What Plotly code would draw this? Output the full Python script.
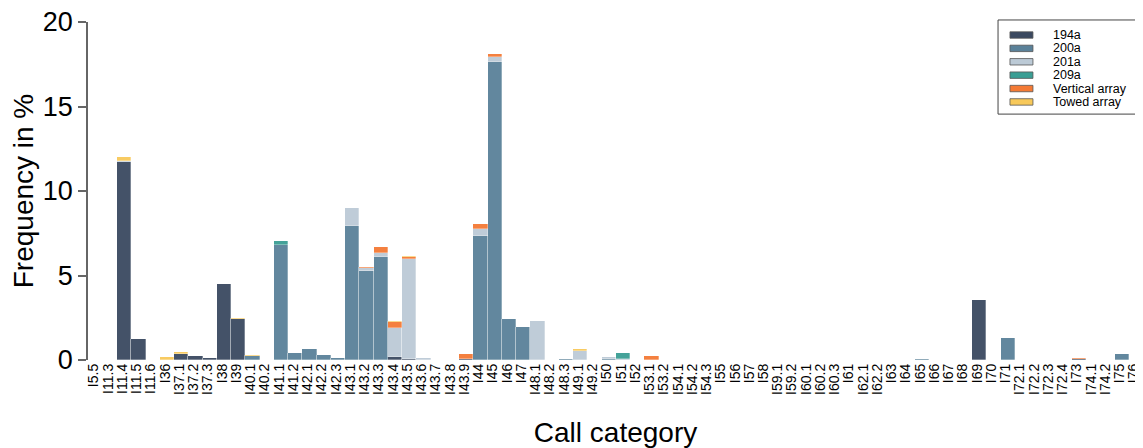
import plotly.graph_objects as go

categories = ["I5.5", "I11.3", "I11.4", "I11.5", "I11.6", "I36", "I37.1", "I37.2", "I37.3", "I38",
              "I39", "I40.1", "I40.2", "I41.1", "I41.2", "I42.1", "I42.2", "I42.3", "I43.1", "I43.2",
              "I43.3", "I43.4", "I43.5", "I43.6", "I43.7", "I43.8", "I43.9", "I44", "I45", "I46",
              "I47", "I48.1", "I48.2", "I48.3", "I49.1", "I49.2", "I50", "I51", "I52", "I53.1",
              "I53.2", "I54.1", "I54.2", "I54.3", "I55", "I56", "I57", "I58", "I59.1", "I59.2",
              "I60.1", "I60.2", "I60.3", "I61", "I62.1", "I62.2", "I63", "I64", "I65", "I66",
              "I67", "I68", "I69", "I70", "I71", "I72.1", "I72.2", "I72.3", "I72.4", "I73",
              "I74.1", "I74.2", "I75", "I76"]

v_194a = [0, 0, 11.7, 1.25, 0, 0, 0.35, 0.22, 0.12, 4.5,
          2.45, 0, 0, 0, 0, 0, 0, 0, 0, 0,
          0, 0.18, 0.07, 0, 0, 0, 0.05, 0, 0, 0,
          0, 0, 0, 0, 0, 0, 0, 0, 0, 0,
          0, 0, 0, 0, 0, 0, 0, 0, 0, 0,
          0, 0, 0, 0, 0, 0, 0, 0, 0, 0,
          0, 0, 3.55, 0, 0, 0, 0, 0, 0, 0.06,
          0, 0, 0, 0]

v_200a = [0, 0, 0, 0, 0, 0, 0, 0, 0, 0,
          0, 0.25, 0, 6.8, 0.43, 0.63, 0.28, 0.1, 7.95, 5.28,
          6.07, 0, 0, 0, 0, 0, 0, 7.35, 17.65, 2.4,
          1.93, 0, 0, 0.05, 0, 0, 0.05, 0, 0, 0,
          0, 0, 0, 0, 0, 0, 0, 0, 0, 0,
          0, 0, 0, 0, 0, 0, 0, 0, 0.06, 0,
          0, 0, 0, 0, 1.28, 0, 0, 0, 0, 0,
          0, 0, 0.35, 0]

v_201a = [0, 0, 0.1, 0, 0, 0, 0, 0, 0, 0,
          0, 0, 0, 0, 0, 0, 0, 0, 1.05, 0.15,
          0.28, 1.7, 5.9, 0.12, 0, 0, 0, 0.4, 0.25, 0,
          0, 2.3, 0, 0, 0.56, 0, 0.15, 0.05, 0, 0,
          0, 0, 0, 0, 0, 0, 0, 0, 0, 0,
          0, 0, 0, 0, 0, 0, 0, 0, 0, 0,
          0, 0, 0, 0, 0, 0, 0, 0, 0, 0,
          0, 0, 0, 0]

v_209a = [0, 0, 0, 0, 0, 0, 0, 0, 0, 0,
          0, 0, 0, 0.25, 0, 0, 0, 0, 0, 0,
          0, 0, 0, 0, 0, 0, 0, 0, 0, 0,
          0, 0, 0, 0, 0, 0, 0, 0.35, 0, 0,
          0, 0, 0, 0, 0, 0, 0, 0, 0, 0,
          0, 0, 0, 0, 0, 0, 0, 0, 0, 0,
          0, 0, 0, 0, 0, 0, 0, 0, 0, 0,
          0, 0, 0, 0]

v_vertical = [0, 0, 0, 0, 0, 0, 0, 0, 0, 0,
              0, 0, 0, 0, 0, 0, 0, 0, 0, 0.1,
              0.35, 0.35, 0.1, 0, 0, 0, 0.3, 0.28, 0.2, 0,
              0, 0, 0, 0, 0, 0, 0, 0, 0, 0.22,
              0, 0, 0, 0, 0, 0, 0, 0, 0, 0,
              0, 0, 0, 0, 0, 0, 0, 0, 0, 0,
              0, 0, 0, 0, 0, 0, 0, 0, 0, 0.08,
              0, 0, 0, 0]

v_towed = [0, 0, 0.2, 0, 0, 0.15, 0.12, 0, 0, 0,
           0.05, 0.07, 0, 0, 0, 0, 0, 0, 0, 0,
           0, 0.1, 0.08, 0, 0, 0, 0, 0, 0, 0,
           0, 0, 0, 0, 0.08, 0, 0, 0, 0, 0,
           0, 0, 0, 0, 0, 0, 0, 0, 0, 0,
           0, 0, 0, 0, 0, 0, 0, 0, 0, 0,
           0, 0, 0, 0, 0, 0, 0, 0, 0, 0,
           0, 0, 0, 0]

series_names = ["194a", "200a", "201a", "209a", "Vertical array", "Towed array"]
series_values = [v_194a, v_200a, v_201a, v_209a, v_vertical, v_towed]
series_colors = ["#3b4960", "#5a8199", "#bccad6", "#3a9e94", "#f47a35", "#f8c95a"]

fig = go.Figure()
for name, vals, col in zip(series_names, series_values, series_colors):
    fig.add_trace(go.Bar(
        x=categories, y=vals, name=name,
        marker=dict(color=col, line=dict(color="rgba(255,255,255,0.6)", width=0.5)),
        opacity=0.95, showlegend=False,
    ))

# compact boxed legend (matplotlib-style) drawn in paper coordinates
shapes = []
annotations = []
row_top, row_step, sw_half = 0.9615, 0.0396, 0.0095
n = len(series_names)
leg_x0, leg_x1 = 0.8626, 0.9953
leg_y1 = 1.006
leg_y0 = row_top - (n - 1) * row_step - 0.036
shapes.append(dict(type="rect", xref="paper", yref="paper",
                   x0=leg_x0, x1=leg_x1, y0=leg_y0, y1=leg_y1,
                   line=dict(color="#444", width=1), fillcolor="white", layer="above"))
for i, (name, col) in enumerate(zip(series_names, series_colors)):
    yc = row_top - i * row_step
    shapes.append(dict(type="rect", xref="paper", yref="paper",
                       x0=0.8739, x1=0.8957, y0=yc - sw_half, y1=yc + sw_half,
                       line=dict(color="#555", width=0.8), fillcolor=col, layer="above"))
    annotations.append(dict(xref="paper", yref="paper", x=0.9137, y=yc,
                            xanchor="left", yanchor="middle", showarrow=False,
                            text=name, font=dict(size=12.5), borderpad=0))

font_family = "Liberation Sans, Arial, sans-serif"
# page body has an 8px default margin, so the figure is sized to fit inside it
fig.update_layout(
    width=1135, height=440,
    barmode="stack", bargap=0,
    plot_bgcolor="white", paper_bgcolor="white",
    margin=dict(l=80, r=0, t=14, b=88),
    font=dict(family=font_family, color="black"),
    shapes=shapes, annotations=annotations,
    xaxis=dict(
        type="category",
        range=[-0.55, 73.5],
        tickmode="array", tickvals=categories, ticktext=categories,
        tickangle=-90,
        tickfont=dict(size=14),
        ticklabelshift=-2,
        showline=False, ticks="", showgrid=False,
        automargin=False, ticklabeloverflow="allow",
        title=dict(text="Call category", font=dict(size=28), standoff=30),
    ),
    yaxis=dict(
        range=[0, 20],
        tickvals=[0, 5, 10, 15, 20],
        tickfont=dict(size=27),
        showline=True, linecolor="#666", linewidth=1.5,
        ticks="outside", ticklen=8, tickcolor="#666", tickwidth=1.5,
        showgrid=False, zeroline=False,
        automargin=False, ticklabeloverflow="allow",
        title=dict(text="Frequency in %", font=dict(size=28), standoff=12),
    ),
)

fig.write_html("out.html")
